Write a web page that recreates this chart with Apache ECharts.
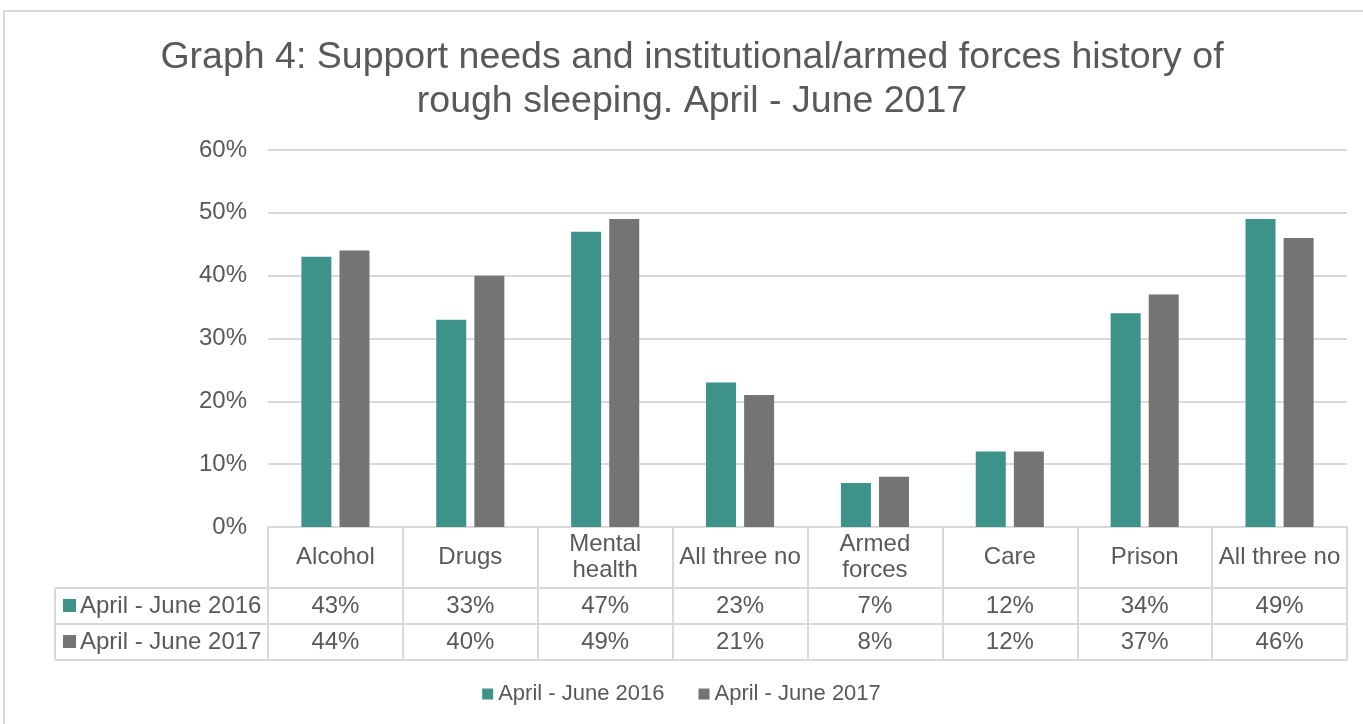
<!DOCTYPE html>
<html>
<head>
<meta charset="utf-8">
<script src="https://cdn.jsdelivr.net/npm/echarts@6/dist/echarts.min.js"></script>
<style>
  html, body { margin: 0; padding: 0; background: #fff; }
  #main { width: 1363px; height: 724px; }
</style>
</head>
<body>
<div id="main"></div>
<script>
// categories and values (percent)
var categories = ['Alcohol', 'Drugs', 'Mental\nhealth', 'All three no', 'Armed\nforces', 'Care', 'Prison', 'All three no'];
var seriesNames = ['April - June 2016', 'April - June 2017'];
var values2016 = [43, 33, 47, 23, 7, 12, 34, 49];
var values2017 = [44, 40, 49, 21, 8, 12, 37, 46];
var yTicks = [0, 10, 20, 30, 40, 50, 60];

var TEAL = '#3d9389';
var GREY = '#747474';
var TXT = '#595959';
var LINE = '#d9d9d9';
var FONT = '"Liberation Sans", Arial, sans-serif';

var chart = echarts.init(document.getElementById('main'), null, { renderer: 'canvas' });

// extra category axis used as a table row of values
function rowAxis(vals, margin) {
  return {
    type: 'category',
    gridIndex: 0,
    position: 'bottom',
    data: vals.map(function (v) { return v + '%'; }),
    axisLine: { show: false },
    axisTick: { show: false },
    axisLabel: {
      interval: 0, margin: margin, verticalAlign: 'middle',
      color: TXT, fontSize: 24, fontFamily: FONT
    }
  };
}

var option = {
  animation: false,
  textStyle: { fontFamily: FONT },
  title: {
    text: 'Graph 4: Support needs and institutional/armed forces history of\nrough sleeping. April - June 2017',
    left: 687,
    top: 31,
    textAlign: 'center',
    textStyle: { color: TXT, fontSize: 37.5, fontWeight: 'normal', lineHeight: 44, fontFamily: FONT }
  },
  legend: {
    data: seriesNames,
    bottom: 14,
    left: 'center',
    icon: 'rect',
    itemWidth: 11,
    itemHeight: 11,
    itemGap: 34,
    textStyle: { color: TXT, fontSize: 22, fontFamily: FONT }
  },
  grid: { left: 268, right: 16, top: 150, bottom: 197, containLabel: false },
  xAxis: [
    {
      type: 'category',
      data: categories,
      axisLine: { show: true, lineStyle: { color: LINE, width: 2 } },
      axisTick: { show: true, length: 133, lineStyle: { color: LINE, width: 2 } },
      axisLabel: {
        interval: 0, margin: 30, verticalAlign: 'middle',
        color: TXT, fontSize: 24, lineHeight: 26, fontFamily: FONT
      }
    },
    rowAxis(values2016, 79),
    rowAxis(values2017, 115)
  ],
  yAxis: {
    type: 'value',
    min: yTicks[0],
    max: yTicks[yTicks.length - 1],
    interval: 10,
    axisLine: { show: false },
    axisTick: { show: false },
    axisLabel: { formatter: '{value}%', color: TXT, fontSize: 24, margin: 21, fontFamily: FONT, padding: [4, 0, 0, 0] },
    splitLine: { lineStyle: { color: LINE, width: 2 } }
  },
  series: [
    { name: seriesNames[0], type: 'bar', data: values2016, barWidth: 30, barGap: '27%', itemStyle: { color: TEAL } },
    { name: seriesNames[1], type: 'bar', data: values2017, barWidth: 30, barGap: '27%', itemStyle: { color: GREY } }
  ],
  graphic: [
    // outer chart frame
    { type: 'rect', shape: { x: 4, y: 11, width: 1420, height: 800 }, style: { fill: 'none', stroke: LINE, lineWidth: 2 }, silent: true },
    // table row lines
    { type: 'line', shape: { x1: 55, y1: 588, x2: 1347, y2: 588 }, style: { stroke: LINE, lineWidth: 2 } },
    { type: 'line', shape: { x1: 55, y1: 624, x2: 1347, y2: 624 }, style: { stroke: LINE, lineWidth: 2 } },
    { type: 'line', shape: { x1: 55, y1: 660, x2: 1347, y2: 660 }, style: { stroke: LINE, lineWidth: 2 } },
    { type: 'line', shape: { x1: 55, y1: 588, x2: 55, y2: 660 }, style: { stroke: LINE, lineWidth: 2 } },
    // row keys
    { type: 'rect', shape: { x: 63, y: 599, width: 13, height: 13 }, style: { fill: TEAL } },
    { type: 'text', x: 80, y: 606, style: { text: seriesNames[0], fill: TXT, font: '24px ' + FONT, verticalAlign: 'middle' } },
    { type: 'rect', shape: { x: 63, y: 635, width: 13, height: 13 }, style: { fill: GREY } },
    { type: 'text', x: 80, y: 642, style: { text: seriesNames[1], fill: TXT, font: '24px ' + FONT, verticalAlign: 'middle' } }
  ]
};

chart.setOption(option);
</script>
</body>
</html>
